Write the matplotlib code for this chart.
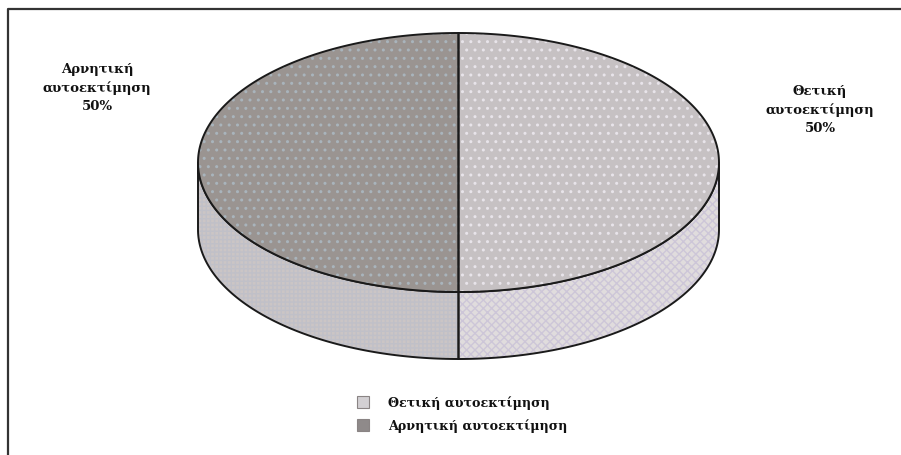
import numpy as np
import matplotlib
matplotlib.use("Agg")
import matplotlib.pyplot as plt
from matplotlib.patches import Polygon, Rectangle

# data
labels = ["Θετική αυτοεκτίμηση", "Αρνητική αυτοεκτίμηση"]
chart_labels = ["Θετική\nαυτοεκτίμηση", "Αρνητική\nαυτοεκτίμηση"]
values = [50, 50]

# styles
top_colors = ["#c6c1c3", "#9a9491"]
side_colors = ["#e0dcdd", "#cbc5c5"]
dot_colors = ["#e8e4ea", "#a9b4bc"]
side_dot_colors = ["#cdc6d8", "#c0c0c8"]
side_hatches = ["xxxx", "++++"]
legend_colors = ["#d3d0d3", "#8f8a8a"]

W, H = 901, 456
cx, cy = 458.5, 163.5
a, b = 260.5, 129.5
depth = 67

fig = plt.figure(figsize=(W / 100, H / 100), dpi=100)
ax = fig.add_axes([0, 0, 1, 1])
ax.set_xlim(0, W)
ax.set_ylim(H, 0)
ax.axis("off")

plt.rcParams["hatch.linewidth"] = 1.0


def pt(theta, dy=0.0):
    # theta in degrees, math convention (counterclockwise), screen y down
    t = np.radians(theta)
    return cx + a * np.cos(t), cy - b * np.sin(t) + dy


def arc(t0, t1, dy=0.0, n=200):
    ts = np.linspace(t0, t1, n)
    return [pt(t, dy) for t in ts]


# frame (top and left edges only)
ax.plot([7.5, 7.5, W], [H, 9.5, 9.5], color="#333333", lw=1.6, solid_capstyle="butt")

total = float(sum(values))
start = 90.0
slices = []
for v in values:
    span = 360.0 * v / total
    slices.append((start - span, start))  # clockwise from 12 o'clock
    start -= span

# sides (front part, angles between 180 and 360 in math terms)
for i, (t0, t1) in enumerate(slices):
    lo, hi = t0 % 360, t1 % 360
    if hi <= lo:
        hi += 360
    s0, s1 = max(lo, 180), min(hi, 360)
    if s1 <= s0:
        lo2, hi2 = lo - 360, hi - 360
        s0, s1 = max(lo2, 180), min(hi2, 360)
    if s1 <= s0:
        continue
    top = arc(s0, s1)
    bot = arc(s1, s0, depth)
    poly = top + bot
    ax.add_patch(Polygon(poly, closed=True, facecolor=side_colors[i],
                         edgecolor=side_dot_colors[i], hatch=side_hatches[i], lw=0, zorder=2))
    ax.add_patch(Polygon(poly, closed=True, facecolor="none",
                         edgecolor="#1a1a1a", lw=1.4, zorder=3))

# tops
for i, (t0, t1) in enumerate(slices):
    poly = [(cx, cy)] + arc(t0, t1)
    ax.add_patch(Polygon(poly, closed=True, facecolor=top_colors[i],
                         edgecolor=dot_colors[i], hatch="..", lw=0, zorder=4))
    ax.add_patch(Polygon(poly, closed=True, facecolor="none",
                         edgecolor="#1a1a1a", lw=1.4, zorder=5))

# percentage labels
serif = ["DejaVu Serif", "Liberation Serif"]
label_pos = [(820, 110), (97, 88)]
for i, v in enumerate(values):
    txt = "%s\n%d%%" % (chart_labels[i], round(100 * v / total))
    ax.text(label_pos[i][0], label_pos[i][1], txt, ha="center", va="center",
            family=serif, fontweight="bold", fontsize=9.5, color="#111111",
            linespacing=1.5)

# legend
for i, lab in enumerate(labels):
    y = 403 + i * 23
    ax.add_patch(Rectangle((357, y - 6), 12, 12, facecolor=legend_colors[i],
                           edgecolor="#8a8484", lw=0.8, zorder=4))
    ax.text(388, y, lab, ha="left", va="center", family=serif,
            fontweight="bold", fontsize=9.2, color="#111111")

fig.savefig("out.png", dpi=100)
